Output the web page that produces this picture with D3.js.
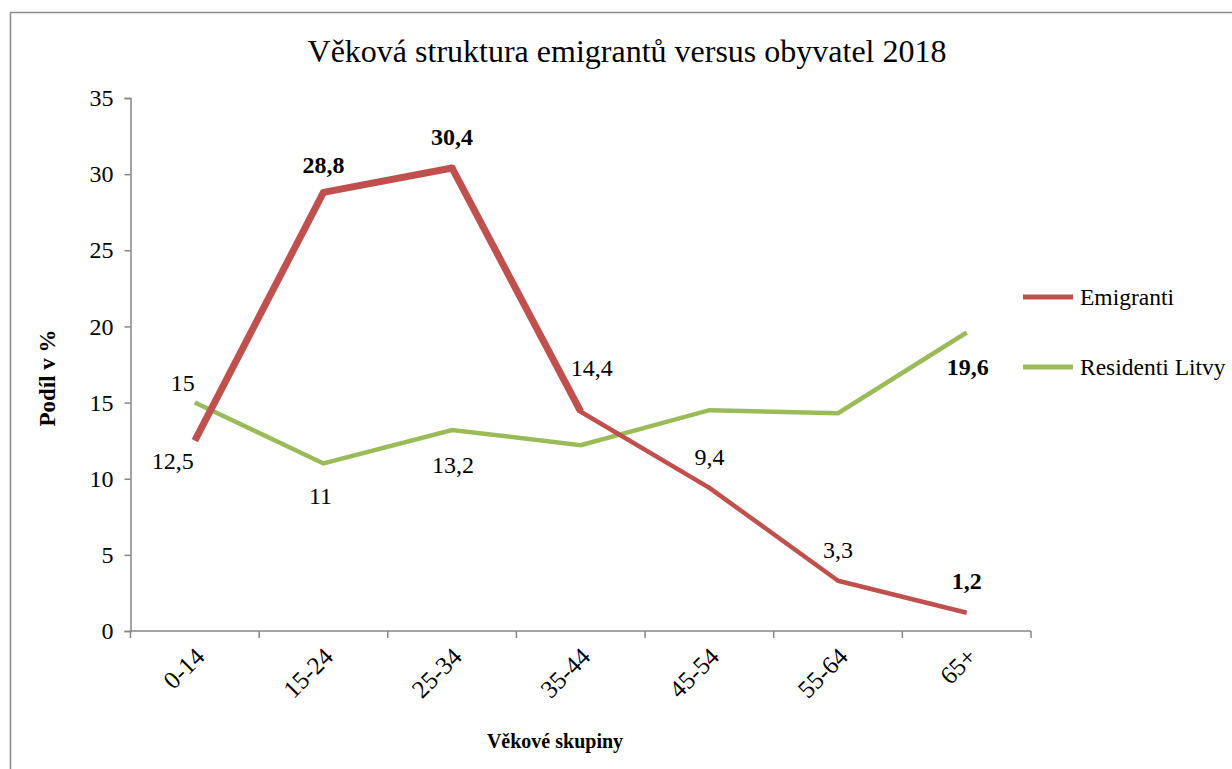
<!DOCTYPE html>
<html><head><meta charset="utf-8">
<script src="https://cdn.jsdelivr.net/npm/d3@7"></script>
<style>
html,body{margin:0;padding:0;background:#fff;}
</style></head>
<body>
<svg id="chart" width="1232" height="769"></svg>
<script>
const categories = ["0-14","15-24","25-34","35-44","45-54","55-64","65+"];
const emigranti = [12.5, 28.8, 30.4, 14.4, 9.4, 3.3, 1.2];
const residenti = [15, 11, 13.2, 12.2, 14.5, 14.3, 19.6];
const yTicks = [0,5,10,15,20,25,30,35];
const seriesNames = ["Emigranti","Residenti Litvy"];
const titleText = "Věková struktura emigrantů versus obyvatel 2018";
const yLabel = "Podíl v %";
const xLabel = "Věkové skupiny";

const FONT = "'Liberation Serif', 'DejaVu Serif', 'Times New Roman', serif";

// label display config (which points show a value label, placement, bold)
const emigLabelCfg = [
  {show:true, dx:-22, dy:20, bold:false},
  {show:true, dx:0, dy:-28, bold:true},
  {show:true, dx:0, dy:-31, bold:true},
  {show:true, dx:11, dy:-44, bold:false},
  {show:true, dx:0, dy:-31, bold:false},
  {show:true, dx:0, dy:-31, bold:false},
  {show:true, dx:0, dy:-32, bold:true}
];
const resLabelCfg = [
  {show:true, dx:-12, dy:-20, bold:false},
  {show:true, dx:-3, dy:32, bold:false},
  {show:true, dx:1, dy:35, bold:false},
  {show:false},
  {show:false},
  {show:false},
  {show:true, dx:1, dy:34, bold:true}
];
const emigWidths = [7,7,7,4.5,4.5,4.5];

const svg = d3.select("#chart");
const red = "#C0504D", green = "#9BBB59", axisCol = "#868686";

// outer frame
svg.append("rect").attr("x",10.5).attr("y",12.5).attr("width",1240).attr("height",780)
  .attr("fill","none").attr("stroke","#8c8c8c").attr("stroke-width",1.5);

const x = d3.scaleBand().domain(categories).range([130.5,1031]);
const y = d3.scaleLinear().domain([0,35]).range([631,98]);
const cx = c => x(c) + x.bandwidth()/2;

// title
svg.append("text").attr("x",627).attr("y",62).attr("text-anchor","middle")
  .attr("font-family",FONT).attr("font-size",32).text(titleText);

// y axis
const yAxis = svg.append("g").attr("transform","translate(130.5,0)")
  .call(d3.axisLeft(y).tickValues(yTicks).tickSize(6).tickPadding(11).tickFormat(d3.format("d")));
yAxis.attr("font-family",FONT);
yAxis.select(".domain").attr("stroke",axisCol).attr("stroke-width",1.5);
yAxis.selectAll(".tick line").attr("stroke",axisCol).attr("stroke-width",1.5);
yAxis.selectAll(".tick text").attr("font-size",24).attr("font-family",FONT).attr("fill","#000");

// x axis with ticks at band boundaries
const xg = svg.append("g").attr("transform","translate(0,631)");
xg.append("line").attr("x1",130.5).attr("x2",1031).attr("y1",0).attr("y2",0)
  .attr("stroke",axisCol).attr("stroke-width",1.5);
const bounds = categories.map(c => x(c)).concat([x.range()[1]]);
xg.selectAll("line.tk").data(bounds).enter().append("line").attr("class","tk")
  .attr("x1",d=>d).attr("x2",d=>d).attr("y1",0).attr("y2",7)
  .attr("stroke",axisCol).attr("stroke-width",1.5);
xg.selectAll("text.cat").data(categories).enter().append("text").attr("class","cat")
  .attr("transform",d=>`translate(${cx(d)+5},${21}) rotate(-45)`)
  .attr("text-anchor","end").attr("font-family",FONT).attr("font-size",25).attr("dy","0.35em").text(d=>d);

// axis titles
svg.append("text").attr("transform","translate(55,378) rotate(-90)").attr("text-anchor","middle")
  .attr("font-family",FONT).attr("font-size",23).attr("font-weight","bold").text(yLabel);
svg.append("text").attr("x",555).attr("y",748).attr("text-anchor","middle")
  .attr("font-family",FONT).attr("font-size",20).attr("font-weight","bold").text(xLabel);

// green line
const line = d3.line().x((d,i)=>cx(categories[i])).y(d=>y(d));
svg.append("path").datum(residenti).attr("d",line).attr("fill","none")
  .attr("stroke",green).attr("stroke-width",4.5).attr("stroke-linejoin","miter");

// red line segments
const emPairs = d3.pairs(emigranti.map((v,i)=>({v,i})));
const segLine = d3.line().x(d=>cx(categories[d.i])).y(d=>y(d.v));
svg.selectAll("path.em").data(emPairs).enter().append("path").attr("class","em")
  .attr("d",p=>segLine(p))
  .attr("fill","none").attr("stroke",red).attr("stroke-width",(p,i)=>emigWidths[i])
  .attr("stroke-linecap","butt");
// joins
svg.selectAll("circle.emj").data(emigranti.slice(1,-1)).enter().append("circle")
  .attr("cx",(d,i)=>cx(categories[i+1])).attr("cy",d=>y(d))
  .attr("r",(d,i)=>Math.min(emigWidths[i],emigWidths[i+1])/2).attr("fill",red);

const fmt = v => String(v).replace(".",",");
function labels(vals,cfg){
  svg.append("g").selectAll("text").data(vals.map((v,i)=>({v,i,c:cfg[i]})).filter(d=>d.c.show))
    .enter().append("text")
    .attr("x",d=>cx(categories[d.i])+d.c.dx).attr("y",d=>y(d.v)+d.c.dy)
    .attr("text-anchor","middle").attr("font-family",FONT).attr("font-size",24)
    .attr("font-weight",d=>d.c.bold?"bold":"normal").attr("dy","0.35em").text(d=>fmt(d.v));
}
labels(emigranti,emigLabelCfg);
labels(residenti,resLabelCfg);

// legend
const lg = svg.append("g");
[[red,297],[green,367]].forEach(([col,yy],i)=>{
  lg.append("line").attr("x1",1023).attr("x2",1073).attr("y1",yy).attr("y2",yy)
    .attr("stroke",col).attr("stroke-width",5);
  lg.append("text").attr("x",1080).attr("y",yy).attr("dy","0.35em").attr("font-family",FONT)
    .attr("font-size",23.5).text(seriesNames[i]);
});
</script>
</body></html>
